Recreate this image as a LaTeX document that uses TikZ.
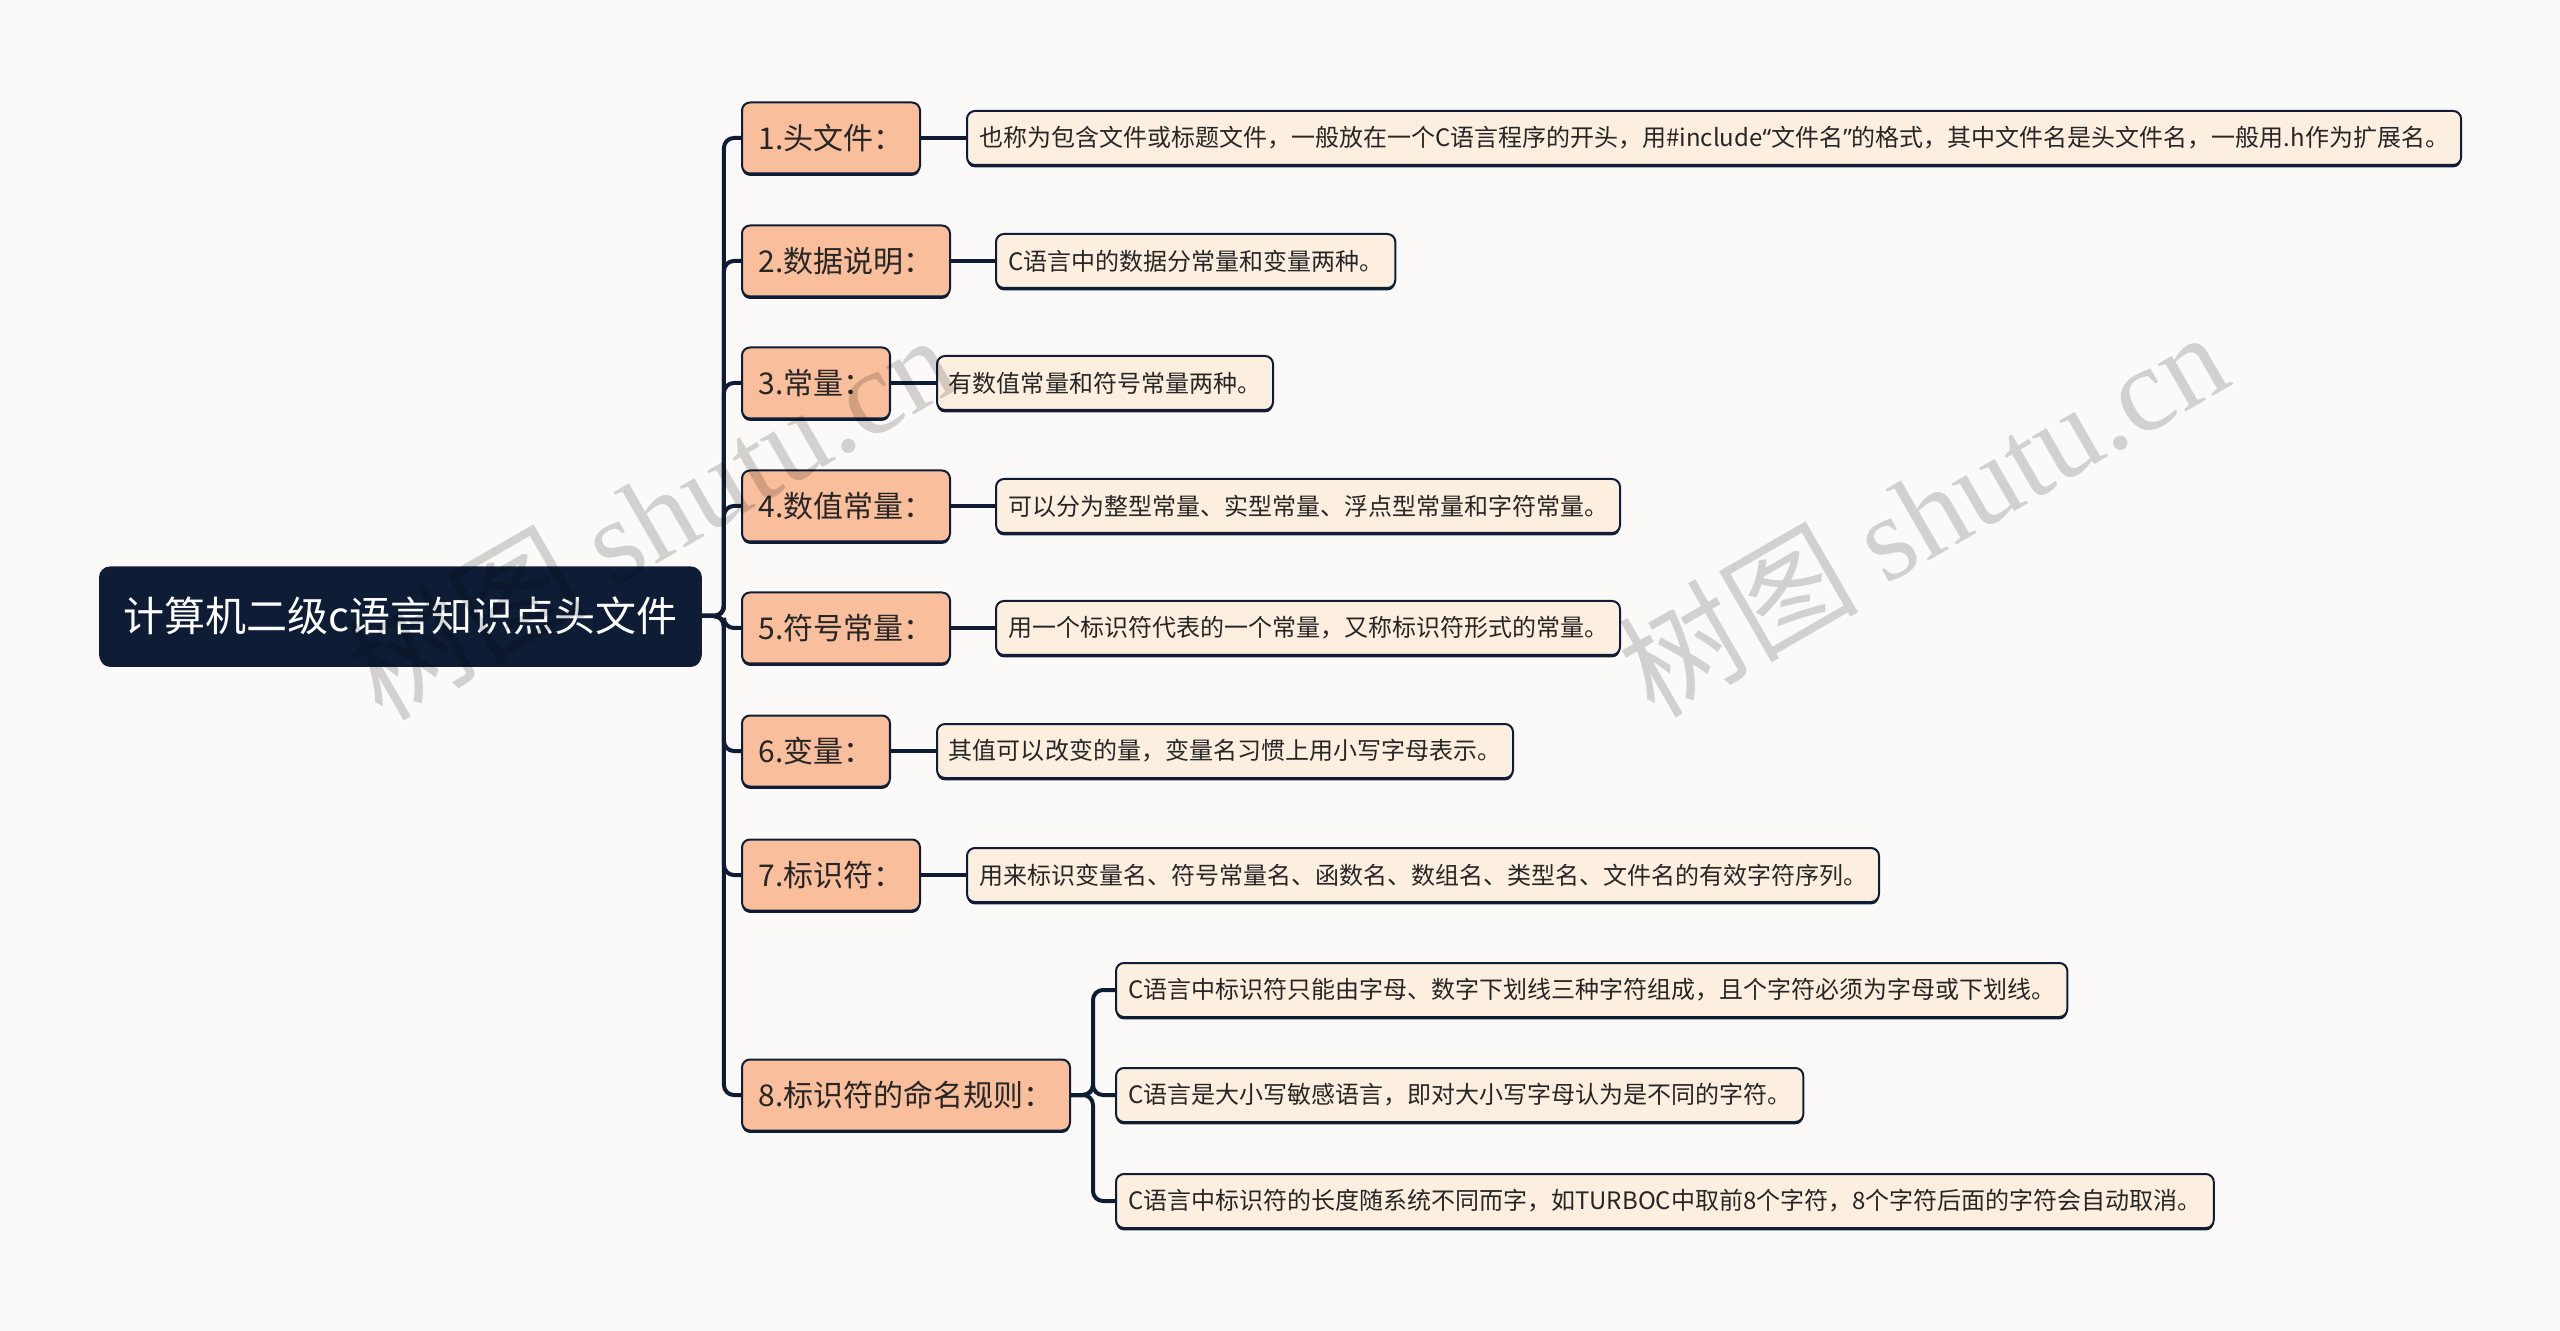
\documentclass[tikz,border=0pt]{standalone}
\usepackage{fontspec}
\setmainfont{Noto Sans CJK SC}
\newfontfamily\wmlatin{Liberation Serif}
\newfontfamily\qfont{Noto Sans}
\usetikzlibrary{shadows,positioning}
\definecolor{navy}{HTML}{0E1D35}
\definecolor{peach}{HTML}{F9BE9B}
\definecolor{cream}{HTML}{FDEFDF}
\definecolor{bgc}{HTML}{FCFAF9}
\definecolor{txt}{HTML}{262626}
\begin{document}
\begin{tikzpicture}[x=0.5pt,y=-0.5pt,
  conn/.style={draw=navy, line width=2pt, rounded corners=5pt},
  box/.style={draw=navy, line width=1pt, rounded corners=4pt, anchor=west,
    drop shadow={shadow xshift=0pt, shadow yshift=-1.2pt, fill=navy, opacity=1}},
  rootbox/.style={box, fill=navy, text=white, font=\fontsize{20.5pt}{24pt}\selectfont,
    inner xsep=11.75pt, minimum height=48.5pt, rounded corners=5pt},
  topic/.style={box, fill=peach, text=txt, font=\fontsize{15pt}{18pt}\selectfont,
    inner xsep=8.25pt, minimum height=35.5pt},
  leaf/.style={box, fill=cream, text=txt, font=\fontsize{12pt}{14pt}\selectfont,
    inner xsep=6pt, minimum height=27pt},
  wm/.style={text=black, opacity=0.16, font=\fontsize{60pt}{66pt}\selectfont, rotate=30}
]
\fill[bgc] (0,0) rectangle (2560,1331);
\useasboundingbox (0,0) rectangle (2560,1331);

\node[rootbox] (r) at (99,616) {计算机二级c语言知识点头文件};

\node[topic] (n1) at (741,138) {1.头文件：};
\node[topic] (n2) at (741,261) {2.数据说明：};
\node[topic] (n3) at (741,383) {3.常量：};
\node[topic] (n4) at (741,506) {4.数值常量：};
\node[topic] (n5) at (741,628) {5.符号常量：};
\node[topic] (n6) at (741,751) {6.变量：};
\node[topic] (n7) at (741,875) {7.标识符：};
\node[topic] (n8) at (741,1095) {8.标识符的命名规则：};

\node[leaf, right=22.5pt of n1] (l1) {也称为包含文件或标题文件，一般放在一个C语言程序的开头，用\#include{\qfont“}文件名{\qfont”}的格式，其中文件名是头文件名，一般用.h作为扩展名。};
\node[leaf, right=22pt of n2] (l2) {C语言中的数据分常量和变量两种。};
\node[leaf, right=22.5pt of n3] (l3) {有数值常量和符号常量两种。};
\node[leaf, right=22pt of n4] (l4) {可以分为整型常量、实型常量、浮点型常量和字符常量。};
\node[leaf, right=22pt of n5] (l5) {用一个标识符代表的一个常量，又称标识符形式的常量。};
\node[leaf, right=22.5pt of n6] (l6) {其值可以改变的量，变量名习惯上用小写字母表示。};
\node[leaf, right=22.5pt of n7] (l7) {用来标识变量名、符号常量名、函数名、数组名、类型名、文件名的有效字符序列。};
\node[leaf, anchor=west] (l8a) at ([xshift=22pt,yshift=52.5pt]n8.east) {C语言中标识符只能由字母、数字下划线三种字符组成，且个字符必须为字母或下划线。};
\node[leaf, right=22pt of n8] (l8b) {C语言是大小写敏感语言，即对大小写字母认为是不同的字符。};
\node[leaf, anchor=west] (l8c) at ([xshift=22pt,yshift=-53pt]n8.east) {C语言中标识符的长度随系统不同而字，如TURBOC中取前8个字符，8个字符后面的字符会自动取消。};

\foreach \n in {n1,n2,n3,n4,n5,n6,n7,n8}
  \draw[conn] (r.east) -- ++(11pt,0) |- (\n.west);
\foreach \a/\b in {n1/l1,n2/l2,n3/l3,n4/l4,n5/l5,n6/l6,n7/l7}
  \draw[conn] (\a.east) -- (\b.west);
\foreach \b in {l8a,l8b,l8c}
  \draw[conn] (n8.east) -- ++(11pt,0) |- (\b.west);

\node[wm] (w1) at (650,515) {树图 {\wmlatin shutu.cn}};
\node[wm] (w2) at (1922,512) {树图 {\wmlatin shutu.cn}};
\end{tikzpicture}
\end{document}
